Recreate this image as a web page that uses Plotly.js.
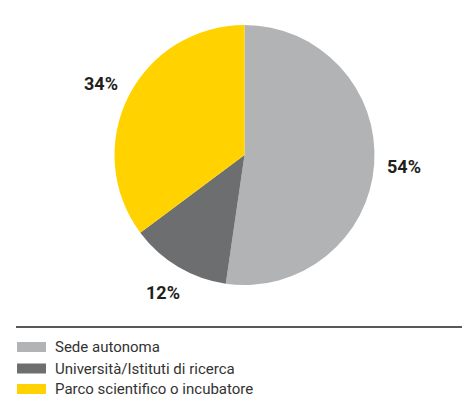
<!DOCTYPE html>
<html><head><meta charset="utf-8">
<script src="https://cdn.plot.ly/plotly-3.0.1.min.js"></script>
<style>html,body{margin:0;padding:0;background:#fff}</style>
</head><body><div id="chart" style="width:462px;height:397px"></div>
<script>
const categories = ["Sede autonoma", "Università/Istituti di ricerca", "Parco scientifico o incubatore"];
// slice sizes as drawn in the reference
const values = [52.3, 12.5, 35.2];
// percentage labels as printed in the reference
const pctLabels = ["54%", "12%", "34%"];
const colors = ["#b2b3b5", "#6d6e70", "#ffd200"];

const W = 462, H = 397;
const cx = 244.5, cy = 155, R = 130, labelR = 160;

const total = values.reduce((a, b) => a + b, 0);
const annotations = [];
let cum = 0;
values.forEach((v, i) => {
  const mid = (cum + v / 2) / total * 2 * Math.PI;
  cum += v;
  const x = cx + labelR * Math.sin(mid);
  const y = cy - labelR * Math.cos(mid);
  annotations.push({
    xref: "paper", yref: "paper", x: x / W, y: 1 - y / H,
    xanchor: "center", yanchor: "middle", showarrow: false,
    text: "<b>" + pctLabels[i] + "</b>",
    font: {family: "Roboto, Arial, sans-serif", size: 18, color: "#231f20"}
  });
});

const shapes = [{
  type: "line", xref: "paper", yref: "paper",
  x0: 16 / W, x1: 1, y0: 1 - 327 / H, y1: 1 - 327 / H,
  line: {color: "#231f20", width: 1.3}
}];
const rowY = [347, 368.5, 389];
categories.forEach((c, i) => {
  shapes.push({
    type: "rect", xref: "paper", yref: "paper",
    x0: 17 / W, x1: 46 / W, y0: 1 - (rowY[i] + 5) / H, y1: 1 - (rowY[i] - 5) / H,
    fillcolor: colors[i], line: {width: 0}
  });
  annotations.push({
    xref: "paper", yref: "paper", x: 53 / W, y: 1 - rowY[i] / H,
    xanchor: "left", yanchor: "middle", showarrow: false,
    text: c, font: {family: "Roboto, Arial, sans-serif", size: 15, color: "#333333"}
  });
});

const data = [{
  type: "pie", labels: categories, values: values,
  marker: {colors: colors, line: {width: 0}},
  sort: false, direction: "clockwise", rotation: 0,
  textinfo: "none", hoverinfo: "none",
  domain: {x: [(cx - R) / W, (cx + R) / W], y: [1 - (cy + R) / H, 1 - (cy - R) / H]}
}];

const layout = {
  width: W, height: H,
  margin: {l: 0, r: 0, t: 0, b: 0},
  showlegend: false,
  paper_bgcolor: "#ffffff",
  annotations: annotations, shapes: shapes
};
Plotly.newPlot("chart", data, layout, {displayModeBar: false, staticPlot: true});
</script></body></html>
